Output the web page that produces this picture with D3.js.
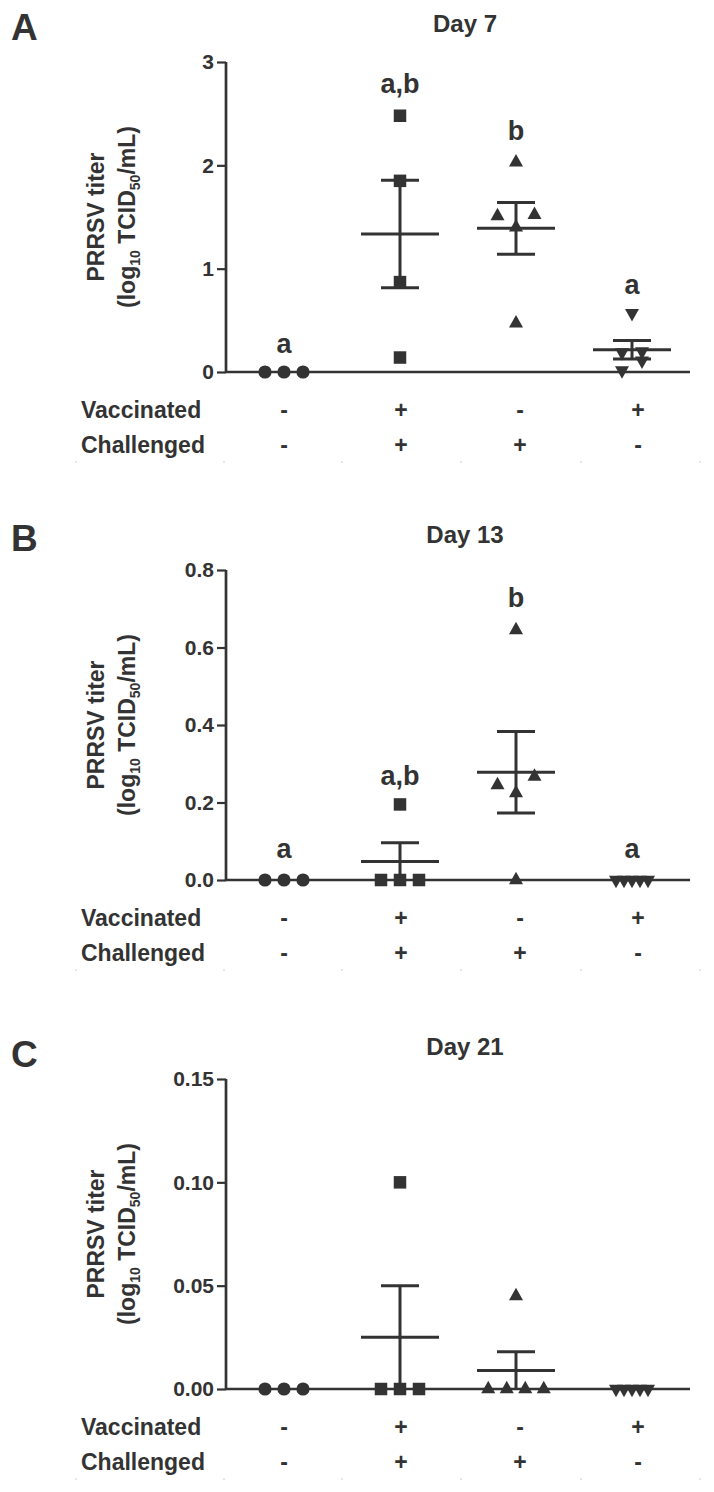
<!DOCTYPE html>
<html><head><meta charset="utf-8">
<script src="https://cdn.jsdelivr.net/npm/d3@7"></script>
<style>
body{margin:0;background:#fff}
text{font-family:"Liberation Sans",Arial,Helvetica,sans-serif;font-weight:bold;fill:#333}
</style>
</head><body>
<svg id="chart" width="714" height="1492"></svg>
<script>
// ---------- data ----------
const groups = ["g1", "g2", "g3", "g4"];
const shapes = ["circle", "square", "triangle", "invtriangle"];
const vaccinated = ["-", "+", "-", "+"];
const challenged = ["-", "+", "+", "-"];
const panelLetters = ["A", "B", "C"];
const panelTitles = ["Day 7", "Day 13", "Day 21"];

const day7Values = [[0, 0, 0], [2.48, 1.85, 0.87, 0.14], [2.03, 1.51, 1.52, 1.40, 0.47], [0.57, 0.19, 0.20, 0.11, 0.015]];
const day7Slots  = [[-1, 0, 1], [0, 0, 0, 0], [0, -1, 1, 0, 0], [0, -1, 1, 1, -1]];
const day7Means  = [0, 1.335, 1.39, 0.215];
const day7Sem    = [0, 0.52, 0.25, 0.09];
const day7Sig    = ["a", "a,b", "b", "a"];
const day7SigAt  = [0.28, 2.80, 2.34, 0.85];
const day7Max    = 3;
const day7Ticks  = [0, 1, 2, 3];
const day7TickLabels = ["0", "1", "2", "3"];

const day13Values = [[0, 0, 0], [0.195, 0, 0, 0], [0.645, 0.245, 0.267, 0.224, 0], [0, 0, 0, 0, 0]];
const day13Slots  = [[-1, 0, 1], [0, -1, 0, 1], [0, -1, 1, 0, 0], [-2, -1, 0, 1, 2]];
const day13Means  = [0, 0.048, 0.278, 0];
const day13Sem    = [0, 0.048, 0.105, 0];
const day13Sig    = ["a", "a,b", "b", "a"];
const day13SigAt  = [0.083, 0.27, 0.73, 0.083];
const day13Max    = 0.8;
const day13Ticks  = [0, 0.2, 0.4, 0.6, 0.8];
const day13TickLabels = ["0.0", "0.2", "0.4", "0.6", "0.8"];

const day21Values = [[0, 0, 0], [0.10, 0, 0, 0], [0.045, 0, 0, 0, 0], [0, 0, 0, 0, 0]];
const day21Slots  = [[-1, 0, 1], [0, -1, 0, 1], [0, -1.5, -0.5, 0.5, 1.5], [-2, -1, 0, 1, 2]];
const day21Means  = [0, 0.025, 0.009, 0];
const day21Sem    = [0, 0.025, 0.009, 0];
const day21Sig    = ["", "", "", ""];
const day21SigAt  = [0, 0, 0, 0];
const day21Max    = 0.15;
const day21Ticks  = [0, 0.05, 0.10, 0.15];
const day21TickLabels = ["0.00", "0.05", "0.10", "0.15"];

// ---------- layout ----------
const ink = "#333";
const svg = d3.select("#chart");
const panels = [
  {values: day7Values, slots: day7Slots, means: day7Means, sem: day7Sem, sig: day7Sig, sigAt: day7SigAt, max: day7Max, ticks: day7Ticks, tickLabels: day7TickLabels, top: 62, titleY: 32, letterY: 40, g4spacing: 10},
  {values: day13Values, slots: day13Slots, means: day13Means, sem: day13Sem, sig: day13Sig, sigAt: day13SigAt, max: day13Max, ticks: day13Ticks, tickLabels: day13TickLabels, top: 570, titleY: 543, letterY: 551, g4spacing: 8},
  {values: day21Values, slots: day21Slots, means: day21Means, sem: day21Sem, sig: day21Sig, sigAt: day21SigAt, max: day21Max, ticks: day21Ticks, tickLabels: day21TickLabels, top: 1079, titleY: 1055, letterY: 1067, g4spacing: 8}
];
const plotH = 310;
const xLeft = 226, xRight = 690;
const spacing = [19, 19, 18.5, 10];
const signDx = [0, 1, 4, 6];
const rowFont = 23;

const x = d3.scaleBand().domain(groups).range([xLeft, xRight]);
const cx = g => x(g) + x.bandwidth() / 2;

function markerPath(shape) {
  if (shape === "circle") return d3.symbol(d3.symbolCircle, Math.PI * 6.6 * 6.6)();
  if (shape === "square") return d3.symbol(d3.symbolSquare, 12.5 * 12.5)();
  const w = 14, h = 12.5;
  if (shape === "triangle") return `M0,${-h * 2 / 3}L${w / 2},${h / 3}L${-w / 2},${h / 3}Z`;
  return `M0,${h * 2 / 3}L${w / 2},${-h / 3}L${-w / 2},${-h / 3}Z`;
}

panels.forEach((p, pi) => {
  const y = d3.scaleLinear().domain([0, p.max]).range([p.top + plotH, p.top]);
  const g = svg.append("g");
  const y0 = y(0);

  // panel letter and title
  g.append("text").attr("x", 11).attr("y", p.letterY).attr("font-size", 37).text(panelLetters[pi]);
  g.append("text").attr("x", 465).attr("y", p.titleY).attr("text-anchor", "middle").attr("font-size", 24).text(panelTitles[pi]);

  // y axis
  const yAxis = d3.axisLeft(y).tickValues(p.ticks).tickFormat((d, i) => p.tickLabels[i]).tickSize(9).tickSizeOuter(0).tickPadding(3);
  const ya = g.append("g").attr("transform", `translate(${xLeft},0)`).call(yAxis);
  ya.selectAll("path.domain").attr("stroke", ink).attr("stroke-width", 2.7).attr("d", `M0,${p.top}V${y0}`);
  ya.selectAll(".tick line").attr("stroke", ink).attr("stroke-width", 2.2);
  ya.selectAll(".tick text").attr("font-size", 21).attr("fill", ink).style("font-family", '"Liberation Sans",Arial,sans-serif').style("font-weight", "bold");

  // y label
  const lab = g.append("text").attr("transform", `translate(104,${p.top + plotH / 2}) rotate(-90)`).attr("text-anchor", "middle").attr("font-size", 23);
  lab.text("PRRSV titer");
  const lab2 = g.append("text").attr("transform", `translate(135,${p.top + plotH / 2}) rotate(-90)`).attr("text-anchor", "middle").attr("font-size", 23);
  lab2.append("tspan").text("(log");
  lab2.append("tspan").attr("font-size", 14).attr("dy", 5).text("10");
  lab2.append("tspan").attr("dy", -5).text(" TCID");
  lab2.append("tspan").attr("font-size", 14).attr("dy", 5).text("50");
  lab2.append("tspan").attr("dy", -5).text("/mL)");

  // x axis baseline
  g.append("line").attr("x1", xLeft).attr("x2", xRight).attr("y1", y0).attr("y2", y0).attr("stroke", ink).attr("stroke-width", 2.7);

  // data per group
  groups.forEach((grp, gi) => {
    const c = cx(grp);
    const sp = gi === 3 ? p.g4spacing : spacing[gi];
    // mean and SEM
    const m = p.means[gi], s = p.sem[gi];
    const eg = g.append("g").attr("stroke", ink).attr("stroke-width", 3).attr("fill", "none");
    if (m > 0) {
      eg.append("line").attr("x1", c - 39).attr("x2", c + 39).attr("y1", y(m)).attr("y2", y(m));
      eg.append("line").attr("x1", c).attr("x2", c).attr("y1", y(m + s)).attr("y2", y(Math.max(0, m - s)));
      eg.append("line").attr("x1", c - 19).attr("x2", c + 19).attr("y1", y(m + s)).attr("y2", y(m + s));
      if (m - s > 0.0001) eg.append("line").attr("x1", c - 19).attr("x2", c + 19).attr("y1", y(m - s)).attr("y2", y(m - s));
    }
    // points
    g.append("g").selectAll("path").data(p.values[gi]).join("path")
      .attr("d", markerPath(shapes[gi]))
      .attr("transform", (v, i) => `translate(${c + p.slots[gi][i] * sp},${y(v)})`)
      .attr("fill", ink);
    // significance letters
    if (p.sig[gi]) {
      g.append("text").attr("x", c).attr("y", y(p.sigAt[gi]) + 10).attr("text-anchor", "middle").attr("font-size", 27).text(p.sig[gi]);
    }
    // treatment rows
    g.append("text").attr("x", c + signDx[gi]).attr("y", y0 + 46).attr("text-anchor", "middle").attr("font-size", rowFont).text(vaccinated[gi]);
    g.append("text").attr("x", c + signDx[gi]).attr("y", y0 + 81).attr("text-anchor", "middle").attr("font-size", rowFont).text(challenged[gi]);
  });
  g.append("text").attr("x", 81).attr("y", y0 + 46).attr("font-size", rowFont).text("Vaccinated");
  g.append("text").attr("x", 81).attr("y", y0 + 81).attr("font-size", rowFont).text("Challenged");

  // faint separator dots
  g.append("g").selectAll("rect").data([75, 223, 341, 460, 580, 699]).join("rect")
    .attr("x", d => d).attr("y", y0 + 89).attr("width", 2).attr("height", 2).attr("fill", "#e6e6e6");
});
</script>
</body></html>
